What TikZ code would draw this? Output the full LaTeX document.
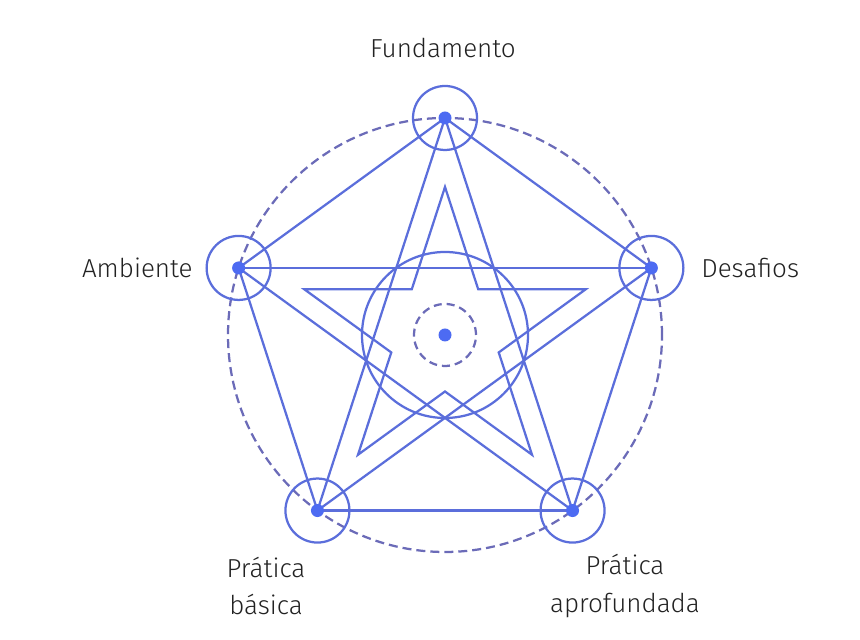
\documentclass[tikz,border=0pt]{standalone}
\usepackage{fontspec}
\setmainfont{Fira Sans Light}
\usepackage{xcolor}
\usepackage{tikz}
\usetikzlibrary{calc}
\definecolor{lineblue}{HTML}{5B6EDB}
\definecolor{dotblue}{HTML}{4D6BF2}
\definecolor{dashpurple}{HTML}{6B6BB8}
\definecolor{labelgray}{HTML}{222222}
\tikzset{
  edge/.style={line width=0.045cm, draw=lineblue},
  ring/.style={line width=0.045cm, draw=lineblue},
  dashring/.style={line width=0.045cm, draw=dashpurple, dash pattern=on 0.18cm off 0.1cm},
  vdot/.style={fill=dotblue},
  label/.style={text=labelgray, font=\fontsize{14.8}{21.6}\selectfont, align=center, inner sep=0pt}
}
\begin{document}
\begin{tikzpicture}
            \useasboundingbox (0,0) rectangle (17.200000,12.800000);
            
            % Centre and vertices of the pentagon
            \coordinate (centre) at (8.900000,6.100000);
            \coordinate (fund) at (8.900000,10.440000);
            \coordinate (desaf) at (13.027600,7.441100);
            \coordinate (aprof) at (11.451000,2.588900);
            \coordinate (basic) at (6.349000,2.588900);
            \coordinate (ambie) at (4.772400,7.441100);
            
            % Drawing dashed outer circle
            \draw [dashring] (centre) circle (4.340000);%
            
            % Drawing pentagon
            \draw [edge] (fund) -- (desaf);%
            \draw [edge] (desaf) -- (aprof);%
            \draw [edge] (aprof) -- (basic);%
            \draw [edge] (basic) -- (ambie);%
            \draw [edge] (ambie) -- (fund);%
            
            % Drawing pentagram
            \draw [edge] (fund) -- (basic);%
            \draw [edge] (fund) -- (aprof);%
            \draw [edge] (ambie) -- (desaf);%
            \draw [edge] (ambie) -- (aprof);%
            \draw [edge] (desaf) -- (basic);%
            
            % Drawing inner star
            \draw [edge, line join=miter] (8.900000,9.060000) -- (9.564200,7.014200) -- (11.715100,7.014700) -- (9.974700,5.750800) -- (10.639900,3.705300) -- (8.900000,4.970000) -- (7.160100,3.705300) -- (7.825300,5.750800) -- (6.084900,7.014700) -- (8.235800,7.014200) -- cycle;%
            
            % Drawing centre circles
            \draw [ring] (centre) circle (1.660000);%
            \draw [dashring, dash pattern=on 0.16cm off 0.1cm] (centre) circle (0.620000);%
            \fill [vdot] (centre) circle (0.130000);%
            
            % Marking vertices by circles
            \draw [ring] (fund) circle (0.640000);%
            \draw [ring] (desaf) circle (0.640000);%
            \draw [ring] (aprof) circle (0.640000);%
            \draw [ring] (basic) circle (0.640000);%
            \draw [ring] (ambie) circle (0.640000);%
            \fill [vdot] (fund) circle (0.130000);%
            \fill [vdot] (desaf) circle (0.130000);%
            \fill [vdot] (aprof) circle (0.130000);%
            \fill [vdot] (basic) circle (0.130000);%
            \fill [vdot] (ambie) circle (0.130000);%
            
            % Labels
            \node [label] (fundlabel) at (8.860000,11.840000) {Fundamento};%
            \node [label, anchor=east] (ambielabel) at (3.860000,7.440000) {Ambiente};%
            \node [label, anchor=west] (desaflabel) at (14.020000,7.440000) {Desafios};%
            \node [label] (basiclabel) at (5.320000,1.080000) {Prática\\básica};%
            \node [label] (aproflabel) at (12.500000,1.080000) {Prática\\aprofundada};%
        \end{tikzpicture}
\end{document}
